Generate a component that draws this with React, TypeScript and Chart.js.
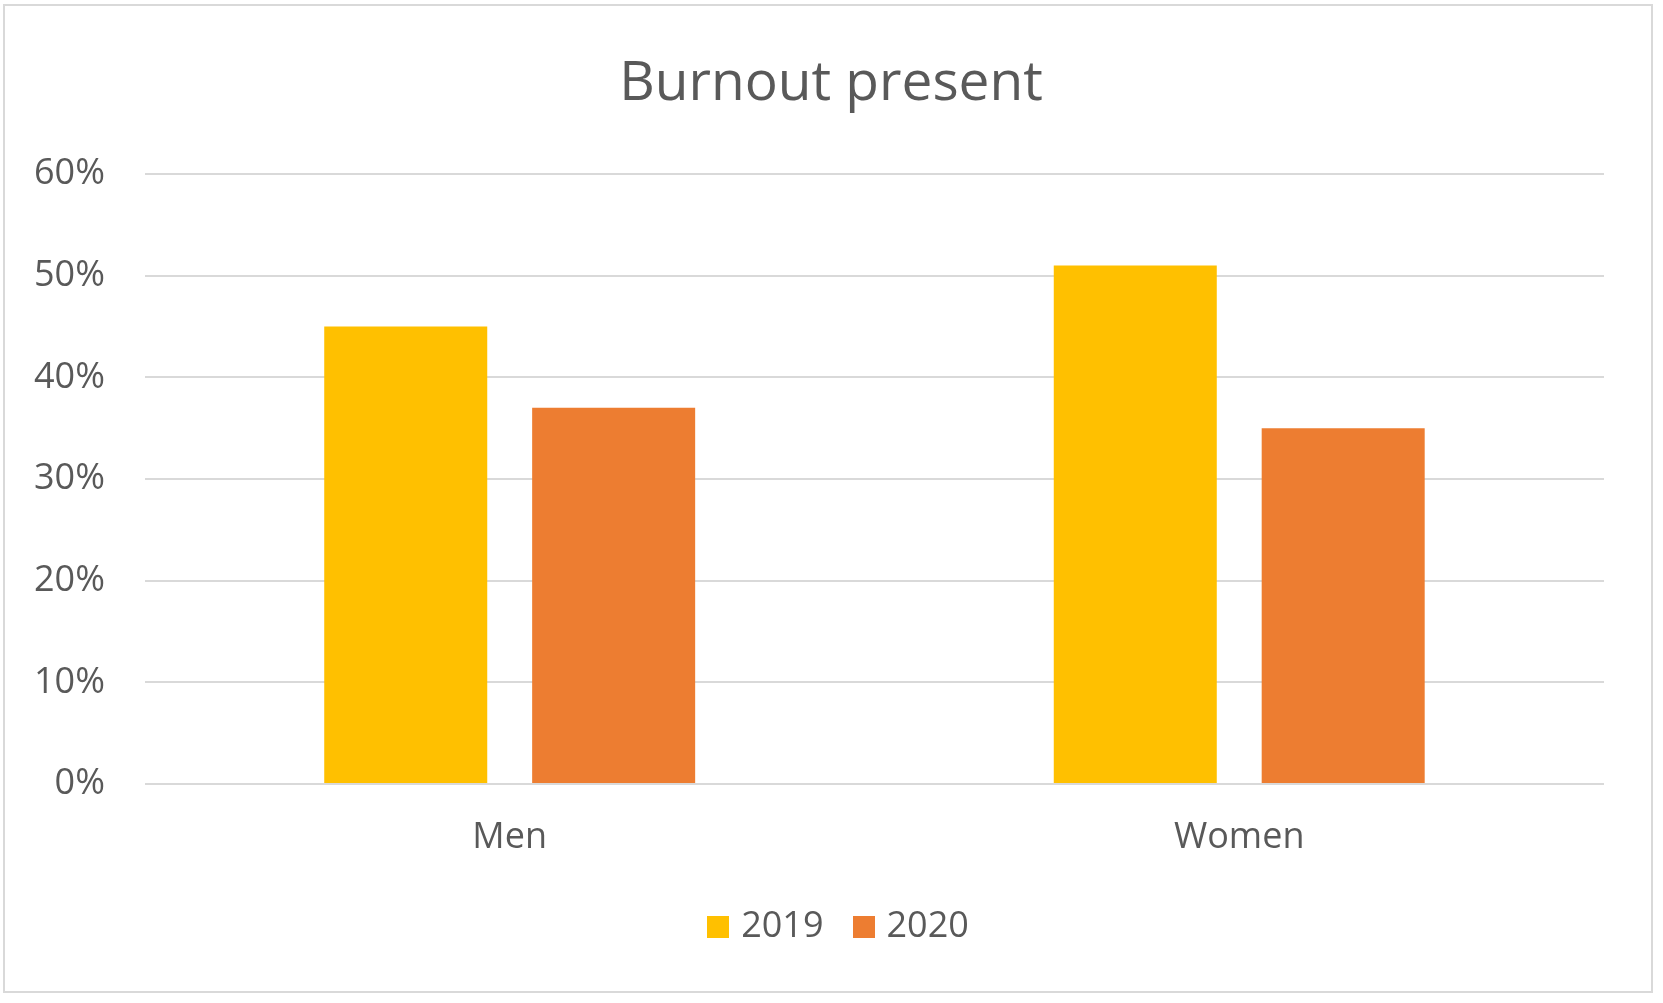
import React, { useEffect, useRef } from "react";
import { Chart, registerables } from "chart.js";

Chart.register(...registerables);

const categories = ["Men", "Women"];
const seriesNames = ["2019", "2020"];
const values2019 = [45, 51];
const values2020 = [37, 35];
const yTicks = [0, 10, 20, 30, 40, 50, 60];
const colors = ["#FFC000", "#ED7D31"];

const FONT = "'Open Sans', 'Noto Sans', sans-serif";
const TEXT = "#595959";

function makeSquare(color: string) {
  const c = document.createElement("canvas");
  c.width = 22;
  c.height = 22;
  const g = c.getContext("2d")!;
  g.fillStyle = color;
  g.fillRect(0, 0, 22, 22);
  return c;
}

const boxShift = {
  id: "boxShift",
  afterLayout(chart: any) {
    const l = chart.legend;
    if (l) {
      l.left += 42;
      l.right += 42;
    }
    const t = chart.titleBlock;
    if (t) {
      t.left += 32;
      t.right += 32;
    }
  },
};

export default function App() {
  const ref = useRef<HTMLCanvasElement | null>(null);

  useEffect(() => {
    document.body.style.margin = "0";
    const ctx = ref.current!;
    const squares = colors.map(makeSquare);
    const chart: any = new Chart(ctx, {
      type: "bar",
      data: {
        labels: categories,
        datasets: [
          {
            label: seriesNames[0],
            data: values2019,
            backgroundColor: colors[0],
            borderWidth: 0,
            categoryPercentage: 0.57,
            barPercentage: 0.784,
          },
          {
            label: seriesNames[1],
            data: values2020,
            backgroundColor: colors[1],
            borderWidth: 0,
            categoryPercentage: 0.57,
            barPercentage: 0.784,
          },
        ],
      },
      plugins: [boxShift],
      options: {
        animation: false,
        responsive: true,
        maintainAspectRatio: false,
        devicePixelRatio: 1,
        layout: { padding: { top: 10, left: -6, right: 59, bottom: 48 } },
        plugins: {
          title: {
            display: true,
            text: "Burnout present",
            color: TEXT,
            font: { family: FONT, size: 55, weight: "normal", lineHeight: 1.2 },
            padding: { top: 41, bottom: 57 },
          },
          legend: {
            display: true,
            position: "bottom",
            labels: {
              color: TEXT,
              font: { family: FONT, size: 36 },
              usePointStyle: true,
              pointStyleWidth: 10,
              boxWidth: 22,
              boxHeight: 22,
              padding: 35,
              generateLabels: (ch: any) =>
                ch.data.datasets.map((ds: any, i: number) => ({
                  text: ds.label,
                  fillStyle: ds.backgroundColor,
                  strokeStyle: ds.backgroundColor,
                  lineWidth: 0,
                  hidden: false,
                  datasetIndex: i,
                  pointStyle: squares[i],
                  fontColor: TEXT,
                })),
            },
          },
          tooltip: { enabled: false },
        },
        scales: {
          x: {
            grid: { display: false, drawTicks: false },
            border: { display: false },
            ticks: { color: TEXT, font: { family: FONT, size: 36, lineHeight: 1.2 }, padding: 32 },
            afterFit: (axis: any) => {
              axis.height = 90;
            },
          },
          y: {
            min: 0,
            max: 60,
            afterBuildTicks: (axis: any) => {
              axis.ticks = yTicks.map((v) => ({ value: v }));
            },
            grid: { color: "#d9d9d9", lineWidth: 2, drawTicks: false },
            border: { display: false },
            ticks: {
              color: TEXT,
              font: { family: FONT, size: 36 },
              padding: 40,
              callback: (v: any) => v + "%",
            },
          },
        },
      },
    });
    return () => chart.destroy();
  }, []);

  return (
    <div style={{ position: "absolute", left: 0, top: 0, width: 1663, height: 1003, background: "#fff" }}>
      <div
        style={{
          position: "absolute",
          left: 3,
          top: 4,
          width: 1650,
          height: 989,
          border: "2px solid #d9d9d9",
          boxSizing: "border-box",
        }}
      />
      <canvas ref={ref} style={{ position: "absolute", left: 0, top: 0, width: 1663, height: 1003 }} />
    </div>
  );
}
